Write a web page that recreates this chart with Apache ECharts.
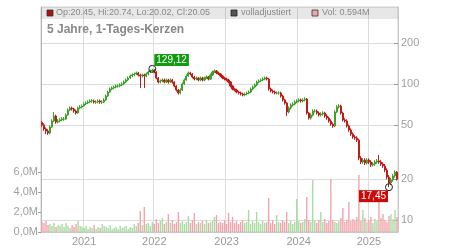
<!DOCTYPE html>
<html><head><meta charset="utf-8">
<script src="https://cdn.jsdelivr.net/npm/echarts@6/dist/echarts.min.js"></script>
<style>html,body{margin:0;padding:0;background:#fff}#c{width:450px;height:250px}</style>
</head><body><div id="c"></div>
<script>
// ---- data ----
const startDate = '2020-06-05';
const stepDays = 10.26; // one candle per ~10 calendar days
const firstOpen = 52.0;
const closes = [
 50.0, 46.7, 45.1, 43.6, 48.3, 53.5, 58.2, 52.6, 53.5, 54.4,
 55.3, 55.3, 59.2, 64.4, 66.6, 65.5, 63.3, 61.2, 66.6, 67.8,
 68.9, 71.3, 72.5, 73.7, 75.0, 75.0, 73.7, 73.7, 75.0, 73.7,
 73.7, 76.3, 81.6, 87.3, 91.9, 93.5, 95.0, 96.7, 96.7, 98.3,
 100, 103.4, 107, 110.7, 114.5, 116.5, 118.5, 120.5, 116.5, 114.5,
 116.5, 114.5, 118.5, 122.5, 124.6, 126.7,
 122.5, 110.7, 103.4, 105.2, 107, 103.4, 107, 103.4, 107, 103.4,
 96.7, 90.3, 85.9, 90.3, 100, 107, 114.5, 120.5, 118.5, 112.6,
 108.8, 110.7, 107, 110.7, 107, 110.7, 112.6, 108.8, 116.5, 122.5,
 124.6, 120.5, 118.5, 114.5, 110.7, 108.8, 107, 103.4, 96.7, 91.9,
 90.3, 87.3, 85.9, 84.4, 83.0, 84.4, 85.9, 87.3, 91.9, 95.0,
 98.3, 103.4, 105.2, 107, 108.8, 110.7, 108.8, 91.9, 88.8, 87.3,
 85.9, 85.9, 85.9, 81.6, 76.3, 72.5, 62.3, 66.6, 70.1, 71.3,
 73.7, 75.0, 76.3, 75.0, 76.3, 77.6, 61.2, 56.2, 59.2, 63.3,
 63.3, 61.2, 59.2, 60.2, 61.2, 58.2, 56.2, 53.5, 50.8, 49.1,
 62.3, 67.8, 68.9, 61.2, 54.4, 53.5, 49.1, 45.9, 42.9, 40.8,
 40.1, 38.7, 28.6, 26.7, 27.6, 26.3, 27.6, 26.7, 25.4, 25.8,
 26.7, 27.2, 26.7, 25.8, 25.0, 23.3, 20.7, 18.7, 19.7, 21.1,
 22.5, 20.05
];
const highs = [
 53.5, 51.5, 48.0, 46.5, 49.8, 55.0, 62.3, 59.5, 55.2, 56.0,
 57.0, 57.2, 60.8, 66.0, 68.5, 68.2, 66.8, 64.8, 68.0, 69.8,
 70.8, 73.3, 74.6, 75.8, 77.0, 77.3, 76.8, 75.9, 77.2, 77.0,
 76.0, 78.5, 83.8, 89.5, 94.2, 96.0, 97.6, 99.2, 99.5, 101.0,
 102.8, 106.2, 110, 113.6, 117.5, 119.6, 121.5, 123.5, 122.8, 119,
 119.2, 119, 121.3, 125.2, 127.5, 129.12,
 128.5, 124, 112.5, 108, 110, 109.5, 109.8, 109.2, 110.2, 109,
 105, 98, 92, 92.8, 102.5, 109.8, 117.4, 123.5, 123, 120.2,
 114.8, 113.5, 112.8, 113.4, 113, 113.2, 115.5, 114.5, 119.4, 125.3,
 127.8, 126.6, 123, 120.4, 116.5, 113, 111.2, 109, 105.2, 98.5,
 94, 92.4, 89.3, 88, 86.4, 86.5, 88, 89.6, 94.2, 97.5,
 100.8, 106, 108, 109.8, 111.6, 113.5, 113.3, 110.5, 94, 91,
 89.5, 88.2, 88.3, 87.8, 83.3, 78, 74, 68.4, 72, 73.3,
 75.8, 77.2, 78.5, 78.2, 78.4, 79.8, 78.8, 62.5, 61, 65.2,
 65.2, 64.9, 62.8, 62, 63, 62.6, 59.8, 57.6, 55, 52.2,
 64, 69.8, 71, 70.5, 62.6, 56, 55, 50.4, 47.2, 44.1,
 42, 41.3, 39.5, 29.5, 28.5, 28.4, 28.5, 28.4, 27.5, 26.7,
 27.6, 28.1, 30.1, 27.5, 26.6, 25.8, 24, 21.4, 20.4, 21.8,
 23.2, 22.9
];
const lows = [
 48.5, 45.3, 42.9, 42.3, 42.8, 47.5, 52.5, 51.0, 51.3, 52.2,
 53.2, 53.6, 54.5, 58.5, 63.2, 63.8, 61.5, 59.6, 60.5, 65.2,
 66.3, 67.8, 70.0, 71.2, 72.2, 72.8, 71.8, 71.5, 72.0, 71.6,
 71.4, 72.3, 75.2, 80.5, 86.0, 90.0, 91.5, 93.0, 94.0, 94.5,
 96.2, 97.8, 101.5, 105, 108.8, 112.2, 114, 116.2, 113.5, 93.5,
 111.8, 93.5, 112, 116, 120, 122.3,
 119.8, 108.2, 100.8, 101.2, 102.8, 101, 101.5, 100.5, 101.6, 100.8,
 94.5, 88, 83.5, 84.2, 89, 98.5, 105.5, 112.5, 115.8, 110,
 106.2, 106.5, 104.6, 105, 104.5, 105.2, 108.6, 106.3, 107, 114.6,
 120.5, 118, 116, 112, 108.5, 106.2, 104.6, 101, 94.4, 89.8,
 88.2, 85.3, 83.8, 82.4, 81.2, 81.3, 82.6, 84, 85.6, 90,
 93, 96.4, 101.3, 103, 104.8, 106.5, 106.2, 89.5, 86.8, 85.2,
 83.8, 83.6, 83.5, 79.5, 74.3, 70.5, 58.2, 60.8, 65, 68.5,
 69.6, 72, 73.2, 73, 73.2, 74.5, 59.6, 54.8, 54.8, 57.8,
 61.6, 59.6, 57.6, 57.8, 58.6, 56.6, 54.6, 52, 49.3, 47.6,
 48.2, 61, 66, 59.5, 53, 52, 47.8, 44.6, 41.6, 39.6,
 38.9, 37.5, 27.5, 25.8, 25.9, 25.4, 25.5, 25.8, 24.6, 24.7,
 25, 25.9, 25.9, 25, 24.2, 22.5, 19.9, 17.45, 18.1, 19.1,
 20.5, 19.5
];
const volumesM = [
 1.0, 0.9, 1.1, 0.7, 0.8, 0.6, 0.9, 0.5, 0.7, 0.6,
 0.8, 0.5, 0.9, 0.6, 0.4, 0.7, 0.5, 0.8, 1.1, 0.6,
 0.5, 0.4, 0.6, 0.3, 0.5, 0.4, 0.7, 0.3, 0.5, 0.4,
 0.8, 0.6, 0.5, 0.4, 0.7, 0.3, 0.4, 0.5, 0.3, 0.6,
 0.4, 0.5, 0.6, 0.3, 0.5, 0.4, 0.8, 0.6, 0.9, 2.1,
 0.7, 2.5, 0.8, 0.9, 0.6, 1.0, 0.8, 1.3, 0.9, 1.1,
 1.4, 0.8, 1.0, 1.8, 0.9, 1.2, 0.8, 1.0, 2.0, 0.9,
 1.1, 0.8, 1.0, 1.6, 0.9, 1.2, 1.9, 0.8, 1.0, 0.9,
 1.1, 0.8, 1.2, 0.9, 1.0, 1.1, 1.5, 1.7, 0.9, 1.0,
 0.9, 1.2, 0.8, 1.9, 1.0, 1.5, 0.9, 1.1, 0.8, 1.0,
 1.2, 0.9, 1.0, 2.2, 0.8, 1.1, 0.9, 2.0, 1.0, 0.8,
 1.1, 0.9, 1.0, 3.4, 0.9, 1.2, 0.8, 1.7, 1.0, 0.9,
 1.2, 1.0, 2.0, 0.9, 1.1, 0.8, 1.0, 3.3, 1.1, 0.9,
 1.0, 1.3, 3.5, 1.2, 1.0, 5.2, 1.1, 0.9, 1.2, 2.0,
 1.0, 1.3, 0.9, 1.1, 5.3, 1.2, 1.0, 0.9, 1.1, 1.4,
 2.4, 1.0, 1.2, 3.0, 1.1, 1.3, 1.2, 1.5, 5.7, 1.1,
 2.2, 1.4, 1.0, 1.2, 1.5, 0.9, 1.3, 1.1, 3.9, 1.4,
 1.8, 1.2, 1.0, 1.6, 1.8, 1.3, 2.2, 1.5
];
const priceTicks = [10, 20, 50, 100, 200];
const volTicks = [0, 2, 4, 6];
const titleText = '5 Jahre, 1-Tages-Kerzen';
const legendOHLC = 'Op:20.45, Hi:20.74, Lo:20.02, Cl:20.05';
const legendAdj = 'volladjustiert';
const legendVol = 'Vol: 0.594M';

// ---- build options ----
const categories = closes.map((c, i) => {
  const d = new Date(Date.parse(startDate) + Math.round(i * stepDays) * 86400000);
  return d.toISOString().slice(0, 10);
});
const candles = closes.map((c, i) => {
  const o = i === 0 ? firstOpen : closes[i - 1];
  return [o, c, lows[i], highs[i]];
});
const UP = '#3aa52a', DOWN = '#c41a1a';
const volData = volumesM.map((v, i) => ({
  value: v,
  itemStyle: { color: candles[i][1] >= candles[i][0] ? '#a9dca2' : '#f2a4ac' }
}));
const isYearStart = (idx) => idx > 0 && categories[idx].slice(0, 4) !== categories[idx - 1].slice(0, 4);
const fmtDE = (v) => v.toFixed(2).replace('.', ',');

const chart = echarts.init(document.getElementById('c'), null, { renderer: 'canvas' });
chart.setOption({
  animation: false,
  textStyle: { fontFamily: 'Liberation Sans, Arial, sans-serif' },
  grid: { left: 41, right: 52, top: 7, bottom: 18, show: true, borderColor: '#cfcfcf', borderWidth: 1, backgroundColor: 'transparent' },
  xAxis: {
    type: 'category', data: categories, boundaryGap: true,
    axisLine: { lineStyle: { color: '#c8c8c8' } },
    axisTick: { show: false },
    axisLabel: { interval: (i) => isYearStart(i), formatter: (v) => v.slice(0, 4), color: '#999', fontSize: 11, margin: 4 },
    splitLine: { show: true, interval: (i) => isYearStart(i), lineStyle: { color: '#dcdcdc', width: 1 } }
  },
  yAxis: [
    {
      type: 'log', logBase: 10, position: 'right', min: 8.17, max: 368,
      axisLine: { show: true, lineStyle: { color: '#c8c8c8' } },
      axisTick: { show: true, inside: true, length: 4, customValues: priceTicks, lineStyle: { color: '#999' } },
      axisLabel: { customValues: priceTicks, color: '#a0a0a0', fontSize: 11, margin: 3 },
      splitLine: { show: true, lineStyle: { color: '#dcdcdc' } }
    },
    {
      type: 'value', position: 'left', min: 0, max: 22.5, interval: 2,
      axisLine: { show: true, lineStyle: { color: '#b4b4b4' } },
      axisTick: { show: true, length: 3, customValues: volTicks, lineStyle: { color: '#999' } },
      axisLabel: { customValues: volTicks, color: '#a0a0a0', fontSize: 11, margin: 3,
        formatter: (v) => v.toFixed(1).replace('.', ',') + 'M' },
      splitLine: { show: false }
    }
  ],
  series: [
    {
      name: 'Vol', type: 'bar', yAxisIndex: 1, data: volData, barWidth: '70%', silent: true, z: 1
    },
    {
      name: 'Kurs', type: 'candlestick', yAxisIndex: 0, data: candles, barWidth: 1.6, z: 3,
      itemStyle: { color: UP, color0: DOWN, borderColor: UP, borderColor0: DOWN, borderWidth: 1 },
      markPoint: {
        symbol: 'circle', symbolSize: 7,
        itemStyle: { color: 'rgba(255,255,255,0)', borderColor: '#222', borderWidth: 1 },
        data: [
          { type: 'max', valueDim: 'highest',
            label: { show: true, formatter: (p) => fmtDE(p.value), position: [6, -11], color: '#fff', fontSize: 10,
              backgroundColor: '#129a12', padding: [1, 2, 1, 2] } },
          { type: 'min', valueDim: 'lowest',
            label: { show: true, formatter: (p) => fmtDE(p.value), position: [-26, 7], color: '#fff', fontSize: 10,
              backgroundColor: '#cc0a0a', padding: [1, 2, 1, 2] } }
        ]
      }
    }
  ],
  graphic: [
    { type: 'rect', shape: { x: 41, y: 7, width: 357, height: 12 }, style: { fill: 'rgba(120,120,120,0.18)' }, z: 10 },
    { type: 'rect', shape: { x: 47, y: 10, width: 6, height: 6 }, style: { fill: '#b01010', stroke: '#333', lineWidth: 0.8 }, z: 11 },
    { type: 'text', x: 56, y: 13, style: { text: legendOHLC, fill: '#888', fontSize: 9, fontFamily: 'Liberation Sans, Arial', verticalAlign: 'middle' }, z: 11 },
    { type: 'rect', shape: { x: 231, y: 10, width: 6, height: 6 }, style: { fill: '#555', stroke: '#222', lineWidth: 0.8 }, z: 11 },
    { type: 'text', x: 241, y: 13, style: { text: legendAdj, fill: '#888', fontSize: 9, fontFamily: 'Liberation Sans, Arial', verticalAlign: 'middle' }, z: 11 },
    { type: 'rect', shape: { x: 312, y: 10, width: 6, height: 6 }, style: { fill: '#f2a4ac', stroke: '#333', lineWidth: 0.8 }, z: 11 },
    { type: 'text', x: 322, y: 13, style: { text: legendVol, fill: '#888', fontSize: 9, fontFamily: 'Liberation Sans, Arial', verticalAlign: 'middle' }, z: 11 },
    { type: 'text', x: 47, y: 30, style: { text: titleText, fill: '#888', fontSize: 12, fontWeight: 'bold', fontFamily: 'Liberation Sans, Arial', verticalAlign: 'middle' }, z: 11 }
  ]
});
</script></body></html>
